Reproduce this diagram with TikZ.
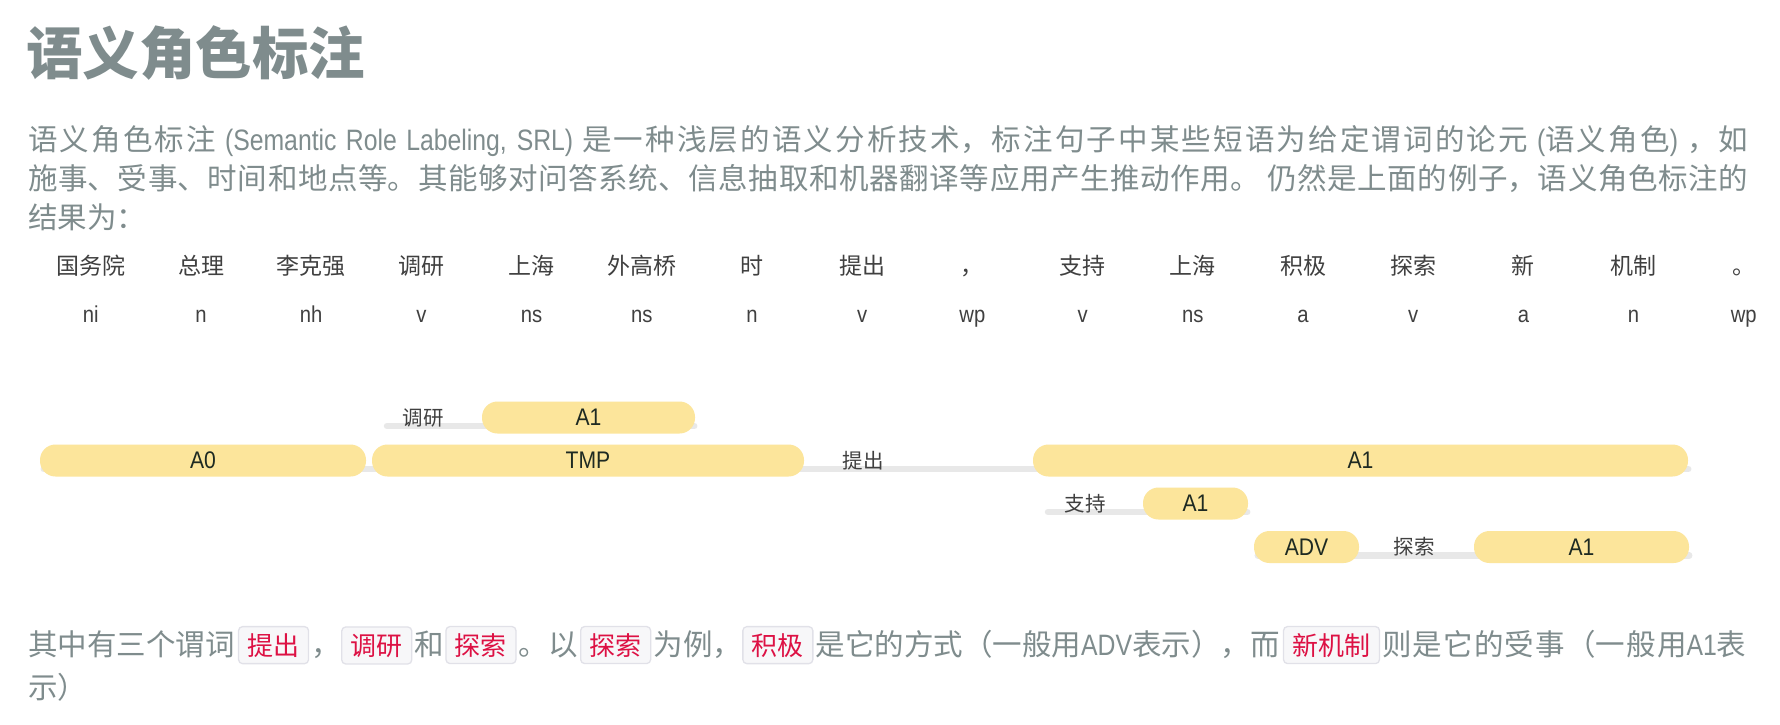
\documentclass[tikz,border=0pt]{standalone}
\usepackage{fontspec}
\setmainfont{Noto Sans CJK SC}
\newfontfamily\latp[FakeStretch=0.84]{Liberation Sans}
\newfontfamily\latn[FakeStretch=0.88]{Liberation Sans}
\usetikzlibrary{calc}
\pgfdeclarelayer{back}
\pgfdeclarelayer{bg}
\pgfsetlayers{back,bg,main}
\XeTeXlinebreaklocale "zh"
\XeTeXlinebreakskip=0pt plus 3pt minus 0.5pt
\definecolor{txt}{HTML}{7F8C8D}
\definecolor{tok}{HTML}{404040}
\definecolor{pillc}{HTML}{FCE59B}
\definecolor{pilltext}{HTML}{1E2A22}
\definecolor{barc}{HTML}{E8E8E8}
\definecolor{codered}{HTML}{DD1144}
\definecolor{codebg}{HTML}{F7F7F9}
\definecolor{codebd}{HTML}{E1E1E8}
\begin{document}
\begin{tikzpicture}[x=1pt,y=-1pt,
  titletext/.style={font=\fontsize{56.5}{60}\selectfont\bfseries, text=txt, inner sep=0, anchor=base west},
  para/.style={font=\fontsize{29.5}{39}\selectfont, text=txt, inner sep=0, anchor=base west},
  fullline/.style={para, text width=1720pt, align=justify},
  tokw/.style={font=\fontsize{23}{25}\selectfont, text=tok, inner sep=0, anchor=base},
  posw/.style={font=\latn\fontsize{23}{25}\selectfont, text=tok, inner sep=0, anchor=base},
  pillbox/.style={fill=pillc, rounded corners=15.5pt, minimum height=32, inner sep=0, font=\latn\fontsize{24}{26}\selectfont, text=pilltext},
  predlab/.style={font=\fontsize{20.5}{22}\selectfont, text=tok, inner sep=0},
  barline/.style={line width=6.5pt, draw=barc, line cap=round},
  codebox/.style={fill=codebg, draw=codebd, line width=1.3pt, rounded corners=4pt, text=codered, font=\fontsize{26}{30}\selectfont, inner xsep=9pt, inner ysep=0pt, minimum height=37, anchor=base west},
]
\begin{pgfonlayer}{back}
\fill[white] (0,0) rectangle (1780,724);
\end{pgfonlayer}
\useasboundingbox (0,0) rectangle (1780,724);

% title
\node[titletext] (title) at (26,74) {语义角色标注};

% paragraph (justified lines)
\node[fullline] (par1) at (28,150) {\noindent\parfillskip=0pt\relax 语义角色标注 {\latp (Semantic Role Labeling, SRL)} 是一种浅层的语义分析技术，标注句子中某些短语为给定谓词的论元 {\latp (}语义角色{\latp )} ，如\par};
\node[fullline] (par2) at (28,189) {\noindent\parfillskip=0pt\relax 施事、受事、时间和地点等。其能够对问答系统、信息抽取和机器翻译等应用产生推动作用。 仍然是上面的例子，语义角色标注的\par};
\node[para] (par3) at (28,228) {结果为：};

% tokens and POS tags
\foreach \w/\p [count=\i] in {国务院/ni,总理/n,李克强/nh,调研/v,上海/ns,外高桥/ns,时/n,提出/v,，/wp,支持/v,上海/ns,积极/a,探索/v,新/a,机制/n,。/wp}{
  \node[tokw] (w\i) at ({90.8+110.2*(\i-1)},274) {\w};
  \node[posw] (pos\i) at ({90.8+110.2*(\i-1)},322) {\p};
}

% SRL row 1 (调研)
\node[predlab] (l1) at (423,417.5) {调研};
\node[pillbox, minimum width=213] (r1a) at (588.5,417.5) {A1};
% SRL row 2 (提出)
\node[pillbox, minimum width=326] (r2a) at (203,460.5) {A0};
\node[pillbox, minimum width=432] (r2b) at (588,460.5) {TMP};
\node[predlab] (l2) at (863,460.5) {提出};
\node[pillbox, minimum width=655] (r2c) at (1360.5,460.5) {A1};
% SRL row 3 (支持)
\node[predlab] (l3) at (1085,503.5) {支持};
\node[pillbox, minimum width=105] (r3a) at (1195.5,503.5) {A1};
% SRL row 4 (探索)
\node[pillbox, minimum width=105] (r4a) at (1306.5,547) {ADV};
\node[predlab] (l4) at (1414,547) {探索};
\node[pillbox, minimum width=215] (r4b) at (1581.5,547) {A1};

\begin{pgfonlayer}{bg}
  \draw[barline] ($(l1.center)+(-36,8.5)$) -- ($(r1a.east)+(-1,8.5)$);
  \draw[barline] ($(r2a.west)+(4,8.5)$) -- ($(r2c.east)+(0,8.5)$);
  \draw[barline] ($(l3.center)+(-37,8.5)$) -- ($(r3a.east)+(-1,8.5)$);
  \draw[barline] ($(r4a.west)+(4,8.5)$) -- ($(r4b.east)+(0,8.5)$);
\end{pgfonlayer}

% bottom paragraph
\node[para] (b1) at (28,655) {其中有三个谓词};
\node[codebox] (c1) at ($(b1.base east)+(3,0)$) {提出};
\node[para] (b2) at ($(c1.base east)+(2,0)$) {，};
\node[codebox] (c2) at ($(b2.base east)+(0,0)$) {调研};
\node[para] (b3) at ($(c2.base east)+(2,0)$) {和};
\node[codebox] (c3) at ($(b3.base east)+(1,0)$) {探索};
\node[para] (b4) at ($(c3.base east)+(2,0)$) {。以};
\node[codebox] (c4) at ($(b4.base east)+(2,0)$) {探索};
\node[para] (b5) at ($(c4.base east)+(2,0)$) {为例，};
\node[codebox] (c5) at ($(b5.base east)+(0,0)$) {积极};
\node[para] (b6) at ($(c5.base east)+(2,0)$) {是它的方式（一般用{\latp ADV}表示），而};
\node[codebox] (c6) at ($(b6.base east)+(3,0)$) {新机制};
\node[para, text width=364pt, align=justify] (b7) at ($(c6.base east)+(2,0)$) {\noindent\parfillskip=0pt\relax 则是它的受事（一般用{\latp A1}表\par};
\node[para] (b8) at (28,698) {示）};
\end{tikzpicture}
\end{document}
